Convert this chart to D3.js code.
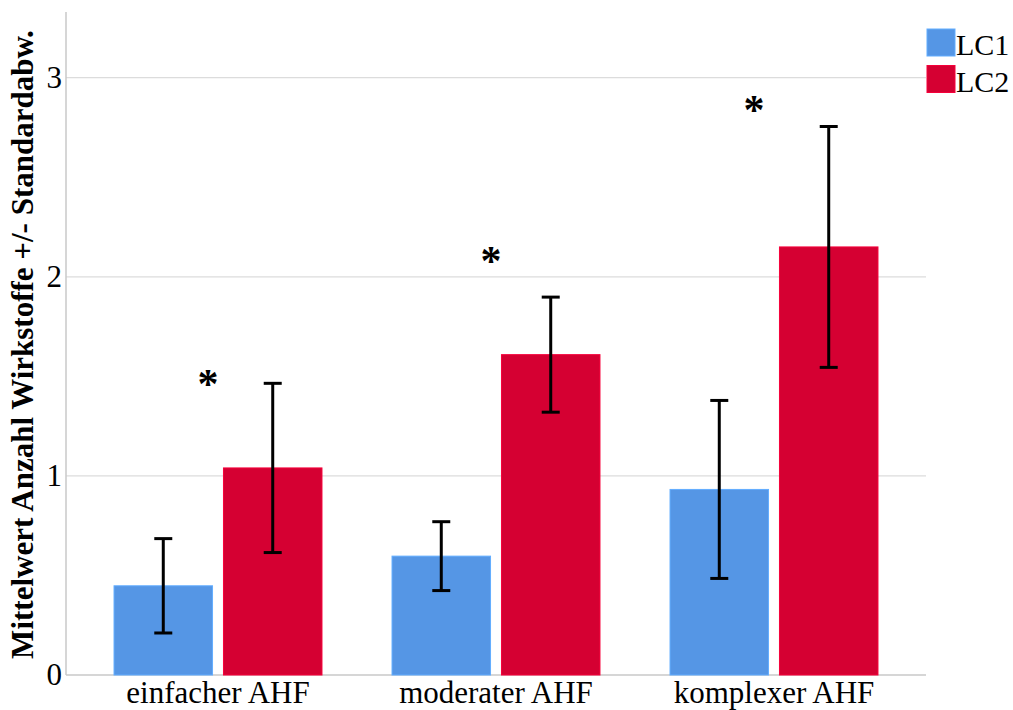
<!DOCTYPE html>
<html lang="de">
  <head>
    <meta charset="utf-8" />
    <title>Wirkstoffe nach AHF</title>
    <script type="text/javascript" src="https://cdn.jsdelivr.net/npm/d3@7"></script>
    <style>
      body { margin: 0; background: white; }
      text { font-family: "Liberation Serif", "Times New Roman", serif; }
    </style>
  </head>
  <body>
    <script type="text/javascript">
var categories = ["einfacher AHF", "moderater AHF", "komplexer AHF"];
var series = ["LC1", "LC2"];
var means = {
  LC1: [0.448, 0.597, 0.932],
  LC2: [1.040, 1.609, 2.150]
};
var sds = {
  LC1: [0.237, 0.173, 0.447],
  LC2: [0.425, 0.289, 0.605]
};
var sigY = [1.50, 2.12, 2.88];   // where the asterisks sit (data units)
var yTicks = [0, 1, 2, 3];
var colors = { LC1: "#5596e5", LC2: "#d50032" };

var w = 1013;
var h = 710;
var plot = { left: 66, right: 926, top: 12, bottom: 675 };
var fs = "31px";

var svg = d3.select("body")
            .append("svg")
            .attr("width", w)
            .attr("height", h);

var x0 = d3.scaleBand()
           .domain(categories)
           .range([plot.left + 13, plot.right - 13])
           .padding(0);
var x1 = d3.scaleBand()
           .domain(series)
           .range([0, x0.bandwidth()])
           .paddingInner(0.1)
           .paddingOuter(0.32);
var y = d3.scaleLinear()
          .domain([0, 3.33])
          .range([plot.bottom, plot.top]);

// gridlines
svg.append("g")
   .selectAll("line")
   .data(yTicks.slice(1))
   .enter()
   .append("line")
   .attr("x1", plot.left)
   .attr("x2", plot.right)
   .attr("y1", function(d) { return y(d); })
   .attr("y2", function(d) { return y(d); })
   .attr("stroke", "#dcdcdc")
   .attr("stroke-width", 1.2);

// axis lines
svg.append("line")
   .attr("x1", plot.left).attr("x2", plot.left)
   .attr("y1", plot.top).attr("y2", plot.bottom)
   .attr("stroke", "#c8c8c8").attr("stroke-width", 1.5);
svg.append("line")
   .attr("x1", plot.left).attr("x2", plot.right)
   .attr("y1", plot.bottom).attr("y2", plot.bottom)
   .attr("stroke", "#c8c8c8").attr("stroke-width", 1.5);

// y tick labels
var yAxis = d3.axisLeft(y).tickValues(yTicks).tickFormat(d3.format("d"))
              .tickSize(0).tickPadding(4);
var gy = svg.append("g")
            .attr("transform", "translate(" + plot.left + ",0)")
            .call(yAxis);
gy.select(".domain").remove();
gy.selectAll("text")
  .style("font-size", fs)
  .attr("fill", "#000");

// x tick labels
var xAxis = d3.axisBottom(x0).tickSize(0).tickPadding(6);
var gx = svg.append("g")
            .attr("transform", "translate(0," + plot.bottom + ")")
            .call(xAxis);
gx.select(".domain").remove();
gx.selectAll("text")
  .style("font-size", fs)
  .attr("fill", "#000");

// bars
var rows = [];
categories.forEach(function(c, i) {
  series.forEach(function(s) {
    rows.push({ cat: c, s: s, m: means[s][i], sd: sds[s][i] });
  });
});

svg.append("g").attr("id", "bars")
   .selectAll("rect")
   .data(rows)
   .enter()
   .append("rect")
   .attr("x", function(d) { return x0(d.cat) + x1(d.s); })
   .attr("y", function(d) { return y(d.m); })
   .attr("width", x1.bandwidth())
   .attr("height", function(d) { return y(0) - y(d.m); })
   .attr("fill", function(d) { return colors[d.s]; })
   .attr("stroke", function(d) { return d3.color(colors[d.s]).brighter(0.4); })
   .attr("stroke-width", 1);

// error bars
var capW = 9;
var eb = svg.append("g").attr("id", "errorbars")
            .selectAll("g")
            .data(rows)
            .enter()
            .append("g")
            .attr("stroke", "#000")
            .attr("stroke-width", 3);
function cx(d) { return x0(d.cat) + x1(d.s) + x1.bandwidth() / 2; }
eb.append("line")
  .attr("x1", cx).attr("x2", cx)
  .attr("y1", function(d) { return y(d.m - d.sd); })
  .attr("y2", function(d) { return y(d.m + d.sd); });
eb.append("line")
  .attr("x1", function(d) { return cx(d) - capW; })
  .attr("x2", function(d) { return cx(d) + capW; })
  .attr("y1", function(d) { return y(d.m + d.sd); })
  .attr("y2", function(d) { return y(d.m + d.sd); });
eb.append("line")
  .attr("x1", function(d) { return cx(d) - capW; })
  .attr("x2", function(d) { return cx(d) + capW; })
  .attr("y1", function(d) { return y(d.m - d.sd); })
  .attr("y2", function(d) { return y(d.m - d.sd); });

// significance asterisks
var sigDx = [-10, -5, -20];
svg.append("g")
   .selectAll("text")
   .data(sigY)
   .enter()
   .append("text")
   .text("*")
   .attr("x", function(d, i) { return x0(categories[i]) + x0.bandwidth() / 2 + sigDx[i]; })
   .attr("y", function(d) { return y(d) + 22; })
   .attr("text-anchor", "middle")
   .style("font-size", "42px")
   .attr("font-weight", "bold")
   .attr("fill", "#000");

// y axis title
svg.append("text")
   .attr("transform", "translate(33," + ((plot.top + plot.bottom) / 2 + 1) + ") rotate(-90)")
   .attr("text-anchor", "middle")
   .style("font-size", fs)
   .attr("font-weight", "bold")
   .attr("fill", "#000")
   .text("Mittelwert Anzahl Wirkstoffe +/- Standardabw.");

// legend
var legend = svg.append("g")
                .selectAll("g")
                .data(series)
                .enter()
                .append("g")
                .attr("transform", function(d, i) { return "translate(927," + (29 + i * 36.5) + ")"; });
legend.append("rect")
      .attr("width", 28)
      .attr("height", 27)
      .attr("fill", function(d) { return colors[d]; })
      .attr("stroke", function(d) { return d3.color(colors[d]).brighter(0.4); })
      .attr("stroke-width", 1);
legend.append("text")
      .attr("x", 29)
      .attr("y", 26)
      .style("font-size", "30px")
      .attr("fill", "#000")
      .text(function(d) { return d; });
    </script>
  </body>
</html>
